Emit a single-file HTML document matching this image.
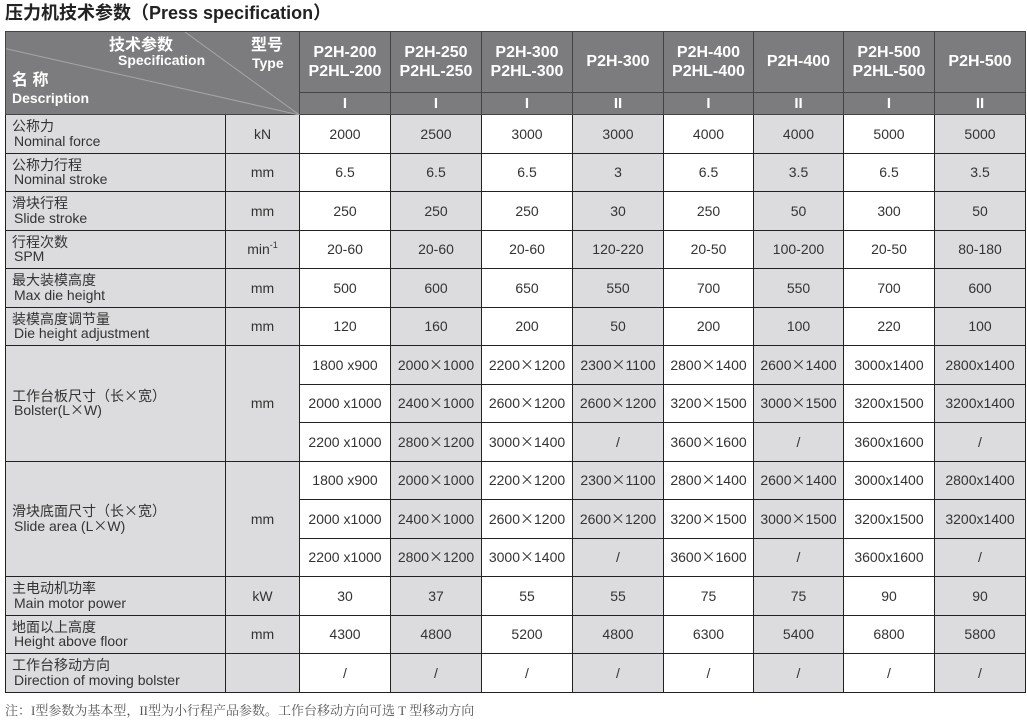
<!DOCTYPE html>
<html><head><meta charset="utf-8">
<style>
html,body{margin:0;padding:0;background:#fff;}
body{width:1027px;height:725px;overflow:hidden;position:relative;font-family:"Liberation Sans","Noto Sans CJK SC",sans-serif;}
.title{position:absolute;left:5px;top:2px;font-size:18px;line-height:22px;font-weight:bold;color:#222;white-space:nowrap;}
table{position:absolute;left:5px;top:31px;border-collapse:collapse;table-layout:fixed;width:1020px;}
td{border:1px solid #222;padding:0;text-align:center;vertical-align:middle;font-size:14px;color:#333;white-space:nowrap;}
tr.b td{height:37.5px;}
.hd{background:#7c7c7e;color:#fff;font-weight:bold;border-color:#444;}
.h1 td.hd{height:60px;font-size:16px;line-height:19.5px;}
.h2 td.hd{height:21px;font-size:15px;line-height:18px;}
.g{background:#dcdcde;}
.d{text-align:left;padding-left:6px;line-height:14.5px;}
.d .e{padding-left:2px;display:block;}
.d .c{display:block;}
.x{font-family:"Noto Sans CJK SC",sans-serif;}
.sup{font-size:9px;position:relative;top:-6px;}
.corner{position:relative;}
.corner div{position:absolute;color:#fff;font-weight:bold;white-space:nowrap;}
.corner svg{position:absolute;left:0;top:0;}
.note{position:absolute;left:5px;top:703px;font-family:"Liberation Serif","Noto Serif CJK SC",serif;font-size:13px;line-height:16px;color:#555;white-space:nowrap;}
</style></head><body>
<div class="title">压力机技术参数（Press specification）</div>
<table>
<colgroup><col style="width:220px"><col style="width:74px"><col style="width:91px"><col style="width:91px"><col style="width:91px"><col style="width:91px"><col style="width:90px"><col style="width:90px"><col style="width:91px"><col style="width:91px"></colgroup>
<tr class="h1">
<td class="hd corner" colspan="2" rowspan="2">
<svg width="294" height="83"><line x1="0" y1="16.7" x2="293.5" y2="83" stroke="#a6a6a8" stroke-width="1"/><line x1="179" y1="0" x2="293.5" y2="83" stroke="#a6a6a8" stroke-width="1"/></svg>
<div style="left:103px;top:5px;font-size:16px;line-height:18px;">技术参数</div>
<div style="left:112px;top:20px;font-size:14px;line-height:16px;">Specification</div>
<div style="left:6px;top:40px;font-size:16px;line-height:18px;">名 称</div>
<div style="left:6px;top:58px;font-size:14px;line-height:16px;">Description</div>
<div style="left:245px;top:5px;font-size:16px;line-height:18px;">型号</div>
<div style="left:246px;top:23px;font-size:14px;line-height:16px;">Type</div>
</td>
<td class="hd">P2H-200<br>P2HL-200</td>
<td class="hd">P2H-250<br>P2HL-250</td>
<td class="hd">P2H-300<br>P2HL-300</td>
<td class="hd">P2H-300</td>
<td class="hd">P2H-400<br>P2HL-400</td>
<td class="hd">P2H-400</td>
<td class="hd">P2H-500<br>P2HL-500</td>
<td class="hd">P2H-500</td>
</tr>
<tr class="h2">
<td class="hd">I</td><td class="hd">I</td><td class="hd">I</td><td class="hd">II</td><td class="hd">I</td><td class="hd">II</td><td class="hd">I</td><td class="hd">II</td>
</tr>
<tr class="b"><td class="g d"><span class="c">公称力</span><span class="e">Nominal force</span></td><td class="g">kN</td><td>2000</td><td class="g">2500</td><td>3000</td><td class="g">3000</td><td>4000</td><td class="g">4000</td><td>5000</td><td class="g">5000</td></tr>
<tr class="b"><td class="g d"><span class="c">公称力行程</span><span class="e">Nominal stroke</span></td><td class="g">mm</td><td>6.5</td><td class="g">6.5</td><td>6.5</td><td class="g">3</td><td>6.5</td><td class="g">3.5</td><td>6.5</td><td class="g">3.5</td></tr>
<tr class="b"><td class="g d"><span class="c">滑块行程</span><span class="e">Slide stroke</span></td><td class="g">mm</td><td>250</td><td class="g">250</td><td>250</td><td class="g">30</td><td>250</td><td class="g">50</td><td>300</td><td class="g">50</td></tr>
<tr class="b"><td class="g d"><span class="c">行程次数</span><span class="e">SPM</span></td><td class="g">min<span class="sup">-1</span></td><td>20-60</td><td class="g">20-60</td><td>20-60</td><td class="g">120-220</td><td>20-50</td><td class="g">100-200</td><td>20-50</td><td class="g">80-180</td></tr>
<tr class="b"><td class="g d"><span class="c">最大装模高度</span><span class="e">Max die height</span></td><td class="g">mm</td><td>500</td><td class="g">600</td><td>650</td><td class="g">550</td><td>700</td><td class="g">550</td><td>700</td><td class="g">600</td></tr>
<tr class="b"><td class="g d"><span class="c">装模高度调节量</span><span class="e">Die height adjustment</span></td><td class="g">mm</td><td>120</td><td class="g">160</td><td>200</td><td class="g">50</td><td>200</td><td class="g">100</td><td>220</td><td class="g">100</td></tr>
<tr class="b"><td class="g d" rowspan="3"><span class="c">工作台板尺寸（长<span class="x">×</span>宽）</span><span class="e">Bolster(L<span class="x">×</span>W)</span></td><td class="g" rowspan="3">mm</td><td>1800 x900</td><td class="g">2000<span class="x">×</span>1000</td><td>2200<span class="x">×</span>1200</td><td class="g">2300<span class="x">×</span>1100</td><td>2800<span class="x">×</span>1400</td><td class="g">2600<span class="x">×</span>1400</td><td>3000x1400</td><td class="g">2800x1400</td></tr>
<tr class="b"><td>2000 x1000</td><td class="g">2400<span class="x">×</span>1000</td><td>2600<span class="x">×</span>1200</td><td class="g">2600<span class="x">×</span>1200</td><td>3200<span class="x">×</span>1500</td><td class="g">3000<span class="x">×</span>1500</td><td>3200x1500</td><td class="g">3200x1400</td></tr>
<tr class="b"><td>2200 x1000</td><td class="g">2800<span class="x">×</span>1200</td><td>3000<span class="x">×</span>1400</td><td class="g">/</td><td>3600<span class="x">×</span>1600</td><td class="g">/</td><td>3600x1600</td><td class="g">/</td></tr>
<tr class="b"><td class="g d" rowspan="3"><span class="c">滑块底面尺寸（长<span class="x">×</span>宽）</span><span class="e">Slide area (L<span class="x">×</span>W)</span></td><td class="g" rowspan="3">mm</td><td>1800 x900</td><td class="g">2000<span class="x">×</span>1000</td><td>2200<span class="x">×</span>1200</td><td class="g">2300<span class="x">×</span>1100</td><td>2800<span class="x">×</span>1400</td><td class="g">2600<span class="x">×</span>1400</td><td>3000x1400</td><td class="g">2800x1400</td></tr>
<tr class="b"><td>2000 x1000</td><td class="g">2400<span class="x">×</span>1000</td><td>2600<span class="x">×</span>1200</td><td class="g">2600<span class="x">×</span>1200</td><td>3200<span class="x">×</span>1500</td><td class="g">3000<span class="x">×</span>1500</td><td>3200x1500</td><td class="g">3200x1400</td></tr>
<tr class="b"><td>2200 x1000</td><td class="g">2800<span class="x">×</span>1200</td><td>3000<span class="x">×</span>1400</td><td class="g">/</td><td>3600<span class="x">×</span>1600</td><td class="g">/</td><td>3600x1600</td><td class="g">/</td></tr>
<tr class="b"><td class="g d"><span class="c">主电动机功率</span><span class="e">Main motor power</span></td><td class="g">kW</td><td>30</td><td class="g">37</td><td>55</td><td class="g">55</td><td>75</td><td class="g">75</td><td>90</td><td class="g">90</td></tr>
<tr class="b"><td class="g d"><span class="c">地面以上高度</span><span class="e">Height above floor</span></td><td class="g">mm</td><td>4300</td><td class="g">4800</td><td>5200</td><td class="g">4800</td><td>6300</td><td class="g">5400</td><td>6800</td><td class="g">5800</td></tr>
<tr class="b"><td class="g d"><span class="c">工作台移动方向</span><span class="e">Direction of moving bolster</span></td><td class="g"></td><td>/</td><td class="g">/</td><td>/</td><td class="g">/</td><td>/</td><td class="g">/</td><td>/</td><td class="g">/</td></tr>
</table>
<div class="note">注：I型参数为基本型，II型为小行程产品参数。工作台移动方向可选 T 型移动方向</div>
</body></html>
